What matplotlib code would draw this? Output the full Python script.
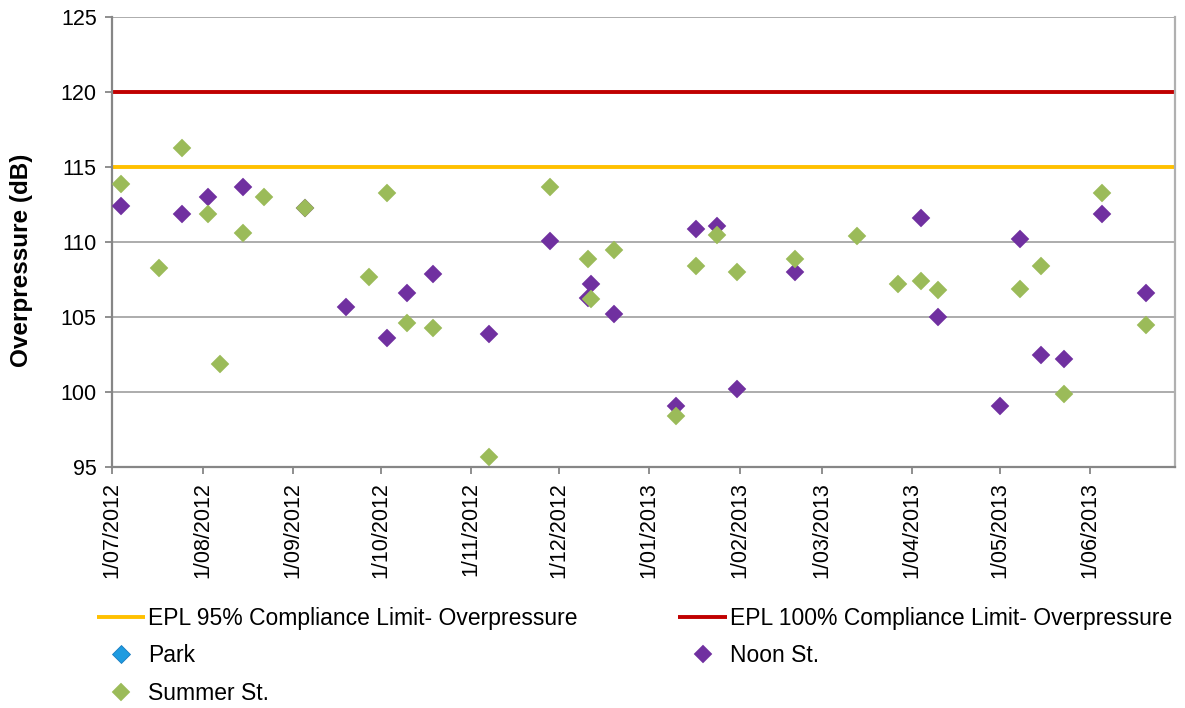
import datetime as dt
import matplotlib
matplotlib.use('Agg')
import matplotlib.pyplot as plt
import matplotlib.dates as mdates
from matplotlib.ticker import FuncFormatter

plt.rcParams['font.family'] = ['Liberation Sans', 'DejaVu Sans']

# Summer St. blasts
summerDates = ['2012-07-04', '2012-07-17', '2012-07-25', '2012-08-03', '2012-08-07', '2012-08-15',
               '2012-08-22', '2012-09-05', '2012-09-27', '2012-10-03', '2012-10-10', '2012-10-19',
               '2012-11-07', '2012-11-28', '2012-12-11', '2012-12-12', '2012-12-20', '2013-01-10',
               '2013-01-17', '2013-01-24', '2013-01-31', '2013-02-20', '2013-03-13', '2013-03-27',
               '2013-04-04', '2013-04-10', '2013-05-08', '2013-05-15', '2013-05-23', '2013-06-05',
               '2013-06-20']
summerVals = [113.9, 108.3, 116.3, 111.9, 101.9, 110.6,
              113.0, 112.3, 107.7, 113.3, 104.6, 104.3,
              95.7, 113.7, 108.9, 106.2, 109.5, 98.4,
              108.4, 110.5, 108.0, 108.9, 110.4, 107.2,
              107.4, 106.8, 106.9, 108.4, 99.9, 113.3,
              104.5]

# Noon St. blasts
noonDates = ['2012-07-04', '2012-07-25', '2012-08-03', '2012-08-15', '2012-09-05', '2012-09-19',
             '2012-10-03', '2012-10-10', '2012-10-19', '2012-11-07', '2012-11-28', '2012-12-11',
             '2012-12-12', '2012-12-20', '2013-01-10', '2013-01-17', '2013-01-24', '2013-01-31',
             '2013-02-20', '2013-04-04', '2013-04-10', '2013-05-01', '2013-05-08', '2013-05-15',
             '2013-05-23', '2013-06-05', '2013-06-20']
noonVals = [112.4, 111.9, 113.0, 113.7, 112.3, 105.7,
            103.6, 106.6, 107.9, 103.9, 110.1, 106.3,
            107.2, 105.2, 99.1, 110.9, 111.1, 100.2,
            108.0, 111.6, 105.0, 99.1, 110.2, 102.5,
            102.2, 111.9, 106.6]

# Park has no blasts in this period
parkDates = []
parkVals = []

limit95 = 115
limit100 = 120
xStart = '2012-07-01'
xEnd = '2013-06-30'

def toDate(s):
    return dt.datetime.strptime(s, '%Y-%m-%d')

gridCol = '#a6a6a6'
axCol = '#868686'
textSize = 15.5
legSize = 16.5

fig = plt.figure(figsize=(11.85, 7.08), dpi=100)
ax = fig.add_axes([112/1185, 1-467/708, (1175-112)/1185, (467-17)/708])

x0, x1 = toDate(xStart), toDate(xEnd)
l95, = ax.plot([x0, x1], [limit95, limit95], color='#ffc000', lw=2.8, solid_capstyle='butt', zorder=2,
               label='EPL 95% Compliance Limit- Overpressure')
l100, = ax.plot([x0, x1], [limit100, limit100], color='#c00000', lw=2.8, solid_capstyle='butt', zorder=2,
                label='EPL 100% Compliance Limit- Overpressure')
park, = ax.plot([toDate(d) for d in parkDates], parkVals, ls='none', marker='D', ms=8.7,
                mfc='#1e9be0', mec='#1a7cc0', mew=0.6, label='Park', zorder=3)
noon, = ax.plot([toDate(d) for d in noonDates], noonVals, ls='none', marker='D', ms=8.7,
                mfc='#7030a0', mec='#7030a0', mew=0.3, label='Noon St.', zorder=3)
summer, = ax.plot([toDate(d) for d in summerDates], summerVals, ls='none', marker='D', ms=8.7,
                  mfc='#9bbb59', mec='#9bbb59', mew=0.3, label='Summer St.', zorder=4)

ax.set_xlim(x0, x1)
ax.set_ylim(95, 125)
ax.set_yticks(range(95, 126, 5))
ax.xaxis.set_major_locator(mdates.MonthLocator())
ax.xaxis.set_major_formatter(FuncFormatter(
    lambda v, pos: '%d/%s' % (mdates.num2date(v).day, mdates.num2date(v).strftime('%m/%Y'))))
for lab in ax.get_xticklabels():
    lab.set_rotation(90)

ax.grid(axis='y', color=gridCol, lw=1.3, zorder=0)
ax.set_axisbelow(True)
for s in ['left', 'bottom', 'right']:
    ax.spines[s].set_color(axCol)
    ax.spines[s].set_linewidth(1.6)
ax.spines['right'].set_color('#b0b0b0')
ax.spines['top'].set_visible(False)
ax.tick_params(axis='both', colors=axCol, labelcolor='black', labelsize=textSize, length=5, width=1.3,
               direction='out')
ax.tick_params(axis='x', pad=6)
ax.tick_params(axis='y', pad=6)

fig.text(22/1185, 1-260/708, 'Overpressure (dB)', rotation=90, fontsize=17.5, fontweight='bold',
         ha='center', va='center')

leg = fig.legend(handles=[l95, park, summer, l100, noon], ncol=2, frameon=False,
                 loc='upper left', bbox_to_anchor=(97/1185, 1-607/708), borderaxespad=0, borderpad=0,
                 fontsize=legSize, handlelength=2.1, handletextpad=0.13, columnspacing=4.4,
                 labelspacing=0.63, numpoints=1)

fig.savefig('out.png', dpi=100)
